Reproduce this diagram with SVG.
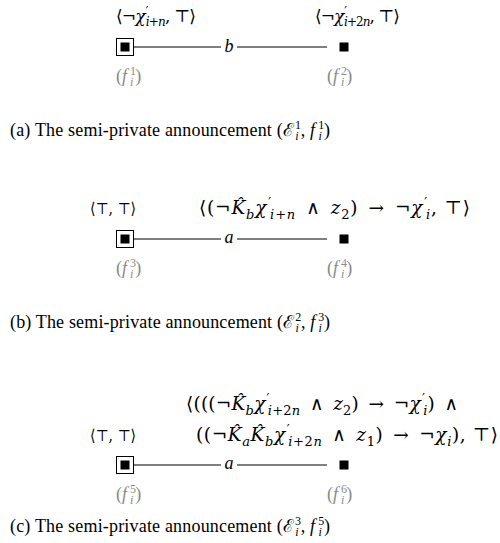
<svg xmlns="http://www.w3.org/2000/svg" width="500" height="543" viewBox="0 0 500 543">
<style>
.t{font-family:"Liberation Serif","DejaVu Serif",serif;font-size:18px;fill:#000}
.m{font-family:"DejaVu Serif","Liberation Serif",serif;font-size:18.5px;fill:#000}
.g{fill:#8a8a8a}
.it{font-style:italic}
.s{font-size:12px}
.ms{font-size:13px}
.ln{stroke:#000;stroke-width:1}
.box{fill:#fff;stroke:#000;stroke-width:1}
</style>
<rect width="500" height="543" fill="#fff"/>

<!-- Panel (a) -->
<g id="a-labels">
<text class="m" x="116" y="22" textLength="80" lengthAdjust="spacing" style="font-size:17px">⟨¬<tspan class="it">χ</tspan><tspan class="s" dx="1" dy="-6">′</tspan><tspan class="s it" dx="-2" dy="10">i</tspan><tspan class="s">+</tspan><tspan class="s it">n</tspan><tspan dy="-4">, ⊤⟩</tspan></text>
<text class="m" x="315" y="22" textLength="85" lengthAdjust="spacing" style="font-size:17px">⟨¬<tspan class="it">χ</tspan><tspan class="s" dx="1" dy="-6">′</tspan><tspan class="s it" dx="-2" dy="10">i</tspan><tspan class="s">+2</tspan><tspan class="s it">n</tspan><tspan dy="-4">, ⊤⟩</tspan></text>
</g>
<g id="node-f1">
<rect class="box" x="116.5" y="38.5" width="17" height="17"/>
<rect x="120.5" y="42.5" width="9" height="9"/>
<text class="t g" x="116" y="82">(<tspan class="it">f</tspan><tspan class="s" dx="3" dy="-7">1</tspan><tspan class="s it" dx="-6" dy="11">i</tspan><tspan dx="2" dy="-4">)</tspan></text>
</g>
<g id="node-f2">
<rect x="339.5" y="42.5" width="9" height="9"/>
<text class="t g" x="327" y="82">(<tspan class="it">f</tspan><tspan class="s" dx="3" dy="-7">2</tspan><tspan class="s it" dx="-6" dy="11">i</tspan><tspan dx="2" dy="-4">)</tspan></text>
</g>
<g id="edges-a">
<line class="ln" x1="134" y1="47" x2="221" y2="47"/>
<line class="ln" x1="237" y1="47" x2="327" y2="47"/>
<text class="t it" x="229" y="52" text-anchor="middle">b</text>
</g>
<text class="t" x="10" y="136" textLength="320" lengthAdjust="spacing">(a) The semi-private announcement (ℰ<tspan class="s" dx="1" dy="-7">1</tspan><tspan class="s it" dx="-6" dy="11">i</tspan><tspan dx="2" dy="-4">, </tspan><tspan class="it">f</tspan><tspan class="s" dx="3" dy="-7">1</tspan><tspan class="s it" dx="-6" dy="11">i</tspan><tspan dx="2" dy="-4">)</tspan></text>

<!-- Panel (b) -->
<g id="b-labels">
<text class="m" x="90" y="214" textLength="46" lengthAdjust="spacingAndGlyphs" style="font-size:16px">⟨⊤, ⊤⟩</text>
<text class="m" x="199" y="214" textLength="271" lengthAdjust="spacing">⟨(¬<tspan class="it">K̂</tspan><tspan class="ms it" dy="5">b</tspan><tspan class="it" dy="-5">χ</tspan><tspan class="ms" dx="1" dy="-7">′</tspan><tspan class="ms it" dx="-2" dy="12">i</tspan><tspan class="ms">+</tspan><tspan class="ms it">n</tspan><tspan dy="-5">&#8194;∧&#8194;</tspan><tspan class="it">z</tspan><tspan class="ms" dy="5">2</tspan><tspan dy="-5">)&#8194;→&#8194;¬</tspan><tspan class="it">χ</tspan><tspan class="ms" dx="1" dy="-7">′</tspan><tspan class="ms it" dx="-2" dy="12">i</tspan><tspan dy="-5">, ⊤⟩</tspan></text>
</g>
<g id="node-f3">
<rect class="box" x="116.5" y="230.5" width="17" height="17"/>
<rect x="120.5" y="234.5" width="9" height="9"/>
<text class="t g" x="116" y="274">(<tspan class="it">f</tspan><tspan class="s" dx="3" dy="-7">3</tspan><tspan class="s it" dx="-6" dy="11">i</tspan><tspan dx="2" dy="-4">)</tspan></text>
</g>
<g id="node-f4">
<rect x="339.5" y="234.5" width="9" height="9"/>
<text class="t g" x="327" y="274">(<tspan class="it">f</tspan><tspan class="s" dx="3" dy="-7">4</tspan><tspan class="s it" dx="-6" dy="11">i</tspan><tspan dx="2" dy="-4">)</tspan></text>
</g>
<g id="edges-b">
<line class="ln" x1="134" y1="239" x2="221" y2="239"/>
<line class="ln" x1="237" y1="239" x2="327" y2="239"/>
<text class="t it" x="229" y="243" text-anchor="middle">a</text>
</g>
<text class="t" x="10" y="328" textLength="320" lengthAdjust="spacing">(b) The semi-private announcement (ℰ<tspan class="s" dx="1" dy="-7">2</tspan><tspan class="s it" dx="-6" dy="11">i</tspan><tspan dx="2" dy="-4">, </tspan><tspan class="it">f</tspan><tspan class="s" dx="3" dy="-7">3</tspan><tspan class="s it" dx="-6" dy="11">i</tspan><tspan dx="2" dy="-4">)</tspan></text>

<!-- Panel (c) -->
<g id="c-labels">
<text class="m" x="90" y="441" textLength="46" lengthAdjust="spacingAndGlyphs" style="font-size:16px">⟨⊤, ⊤⟩</text>
<text class="m" x="186" y="410" textLength="272" lengthAdjust="spacing">⟨(((¬<tspan class="it">K̂</tspan><tspan class="ms it" dy="5">b</tspan><tspan class="it" dy="-5">χ</tspan><tspan class="ms" dx="1" dy="-7">′</tspan><tspan class="ms it" dx="-2" dy="12">i</tspan><tspan class="ms">+2</tspan><tspan class="ms it">n</tspan><tspan dy="-5">&#8194;∧&#8194;</tspan><tspan class="it">z</tspan><tspan class="ms" dy="5">2</tspan><tspan dy="-5">)&#8194;→&#8194;¬</tspan><tspan class="it">χ</tspan><tspan class="ms" dx="1" dy="-7">′</tspan><tspan class="ms it" dx="-2" dy="12">i</tspan><tspan dy="-5">)&#8194;∧</tspan></text>
<text class="m" x="196" y="441" textLength="302" lengthAdjust="spacing">((¬<tspan class="it">K̂</tspan><tspan class="ms it" dy="5">a</tspan><tspan class="it" dy="-5">K̂</tspan><tspan class="ms it" dy="5">b</tspan><tspan class="it" dy="-5">χ</tspan><tspan class="ms" dx="1" dy="-7">′</tspan><tspan class="ms it" dx="-2" dy="12">i</tspan><tspan class="ms">+2</tspan><tspan class="ms it">n</tspan><tspan dy="-5">&#8194;∧&#8194;</tspan><tspan class="it">z</tspan><tspan class="ms" dy="5">1</tspan><tspan dy="-5">)&#8194;→&#8194;¬</tspan><tspan class="it">χ</tspan><tspan class="ms it" dy="5">i</tspan><tspan dy="-5">), ⊤⟩</tspan></text>
</g>
<g id="node-f5">
<rect class="box" x="116.5" y="456.5" width="17" height="17"/>
<rect x="120.5" y="460.5" width="9" height="9"/>
<text class="t g" x="116" y="500">(<tspan class="it">f</tspan><tspan class="s" dx="3" dy="-7">5</tspan><tspan class="s it" dx="-6" dy="11">i</tspan><tspan dx="2" dy="-4">)</tspan></text>
</g>
<g id="node-f6">
<rect x="339.5" y="460.5" width="9" height="9"/>
<text class="t g" x="327" y="500">(<tspan class="it">f</tspan><tspan class="s" dx="3" dy="-7">6</tspan><tspan class="s it" dx="-6" dy="11">i</tspan><tspan dx="2" dy="-4">)</tspan></text>
</g>
<g id="edges-c">
<line class="ln" x1="134" y1="465" x2="221" y2="465"/>
<line class="ln" x1="237" y1="465" x2="327" y2="465"/>
<text class="t it" x="229" y="469" text-anchor="middle">a</text>
</g>
<text class="t" x="10" y="532" textLength="320" lengthAdjust="spacing">(c) The semi-private announcement (ℰ<tspan class="s" dx="1" dy="-7">3</tspan><tspan class="s it" dx="-6" dy="11">i</tspan><tspan dx="2" dy="-4">, </tspan><tspan class="it">f</tspan><tspan class="s" dx="3" dy="-7">5</tspan><tspan class="s it" dx="-6" dy="11">i</tspan><tspan dx="2" dy="-4">)</tspan></text>
</svg>
